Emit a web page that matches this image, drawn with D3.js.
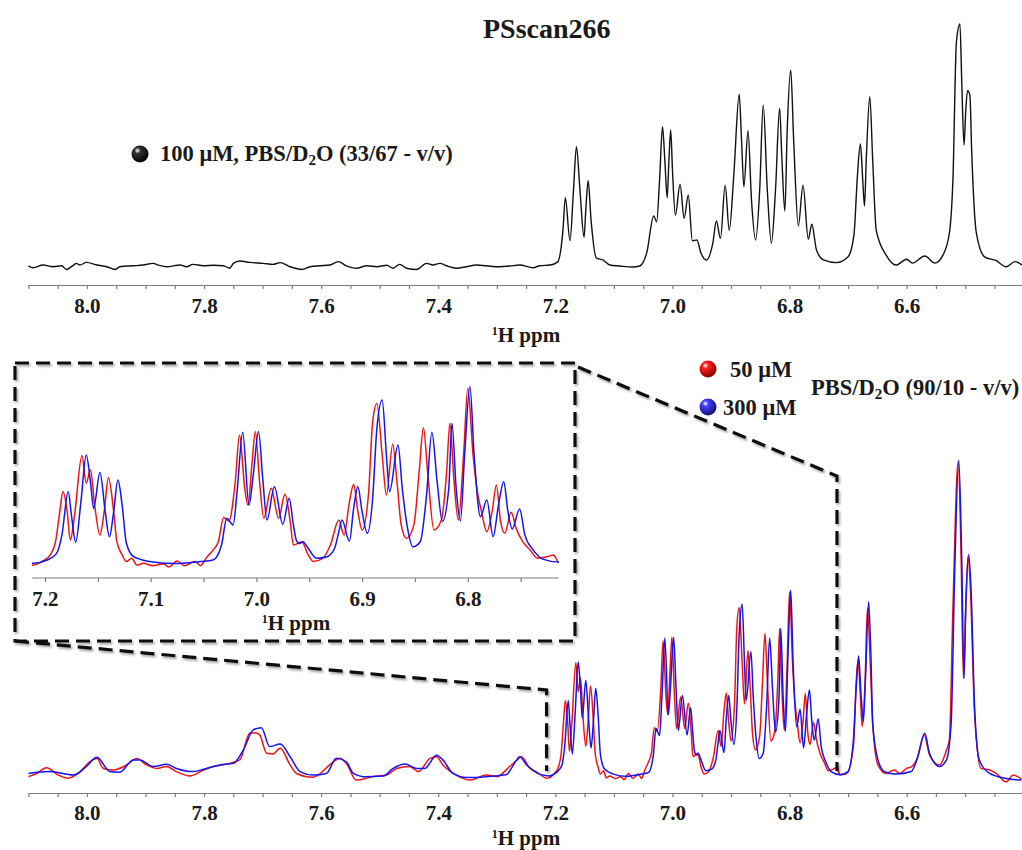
<!DOCTYPE html>
<html>
<head>
<meta charset="utf-8">
<title>PSscan266</title>
<script src="https://d3js.org/d3.v7.min.js"></script>
<style>
  body { margin: 0; padding: 0; background: #fff; }
  svg text { font-family: "Liberation Serif", "DejaVu Serif", serif; font-weight: bold; fill: #1a1a1a; }
  .axis path, .axis line { stroke: #7d7d7d; stroke-width: 1.2; }
  .axis text { font-size: 21px; font-family: "Liberation Serif", serif; }
</style>
</head>
<body>
<div id="chart"></div>
<script>
// ---- data: [ppm, relative intensity] ----
var topSpectrum = [
  [8.100,0.5],[8.092,-0.3],[8.075,0.8],[8.058,0.1],[8.043,0.5],[8.035,-1.0],[8.023,0.8],[8.018,1.5],[8.012,0.8],[8.001,1.9],
  [7.983,0.8],[7.966,0.1],[7.952,-1.0],[7.944,0.1],[7.921,0.5],[7.904,0.8],[7.887,1.5],[7.878,0.8],[7.864,0.1],[7.841,0.8],
  [7.830,0.1],[7.819,1.1],[7.801,0.5],[7.784,0.7],[7.767,0.5],[7.756,-0.5],[7.750,1.5],[7.739,2.5],[7.722,1.9],[7.699,1.5],
  [7.682,1.1],[7.670,1.8],[7.653,0.1],[7.633,-1.0],[7.619,0.1],[7.602,0.5],[7.585,0.8],[7.571,2.2],[7.557,0.5],[7.540,-0.5],
  [7.522,0.5],[7.505,0.1],[7.488,0.7],[7.477,-0.5],[7.466,1.1],[7.454,-0.5],[7.437,-1.0],[7.420,1.5],[7.409,0.8],[7.397,1.5],
  [7.386,0.5],[7.369,-0.5],[7.352,0.1],[7.335,0.8],[7.318,0.5],[7.295,0.1],[7.278,0.4],[7.261,0.8],[7.238,-0.3],[7.227,0.5],
  [7.209,0.8],[7.196,2.1],[7.187,15.2],[7.183,28.5],[7.175,10.8],[7.169,31.7],[7.164,49.5],[7.158,31.7],[7.151,12.3],[7.148,23.5],
  [7.144,35.5],[7.139,19.3],[7.130,3.7],[7.119,2.9],[7.107,0.8],[7.090,0.4],[7.068,0],[7.056,0.4],[7.044,5.8],[7.032,21.0],
  [7.027,18.6],[7.022,35.8],[7.017,57.7],[7.013,44],[7.009,28.5],[7.006,44],[7.003,56.4],[7.000,40],[6.995,21.4],[6.987,34.0],
  [6.980,20.0],[6.973,29.6],[6.966,10.8],[6.958,11.1],[6.952,6.2],[6.942,2.9],[6.931,9.9],[6.925,18.9],[6.918,11.8],[6.910,33.7],
  [6.903,15.2],[6.895,38.6],[6.886,71.1],[6.882,52.3],[6.878,33.0],[6.871,56.1],[6.865,27.6],[6.858,11.1],[6.851,31.7],[6.845,66.7],
  [6.838,31.7],[6.831,9.8],[6.824,31.7],[6.817,65.3],[6.813,44],[6.808,23.0],[6.804,56.4],[6.798,81.1],[6.793,52.3],[6.785,16.9],
  [6.777,33.7],[6.768,11.4],[6.762,17.6],[6.754,7.0],[6.742,2.9],[6.720,1.8],[6.700,4.2],[6.690,13.2],[6.684,37.9],[6.679,50.6],
  [6.675,35.8],[6.672,25.1],[6.669,44],[6.663,70.1],[6.658,44],[6.652,15.2],[6.635,4.9],[6.618,0.8],[6.600,3.2],[6.590,1.6],
  [6.569,4.5],[6.552,1.6],[6.538,4.9],[6.527,14.0],[6.521,35.8],[6.515,92.7],[6.509,100],[6.506,77],[6.502,50.2],[6.499,64.6],
  [6.496,72.6],[6.492,70.8],[6.489,48.1],[6.481,14.0],[6.467,4.2],[6.447,2.6],[6.430,0.1],[6.415,2.2],[6.403,0.8]
];

var redSpectrum = [
  [8.100,-0.2],[8.086,0.8],[8.069,2.6],[8.049,0.3],[8.032,-0.7],[8.015,0.8],[7.995,4.5],[7.983,5.5],[7.972,2.4],[7.955,1.9],
  [7.932,3.5],[7.915,5.5],[7.898,3.5],[7.881,2.4],[7.864,3.0],[7.847,1.4],[7.824,0],[7.801,1.9],[7.784,3.0],[7.761,3.8],
  [7.739,5.1],[7.722,13.5],[7.713,13.7],[7.705,13.0],[7.693,7.2],[7.682,7.0],[7.670,8.8],[7.653,3.5],[7.642,0.8],[7.614,-0.4],
  [7.579,4.5],[7.568,5.6],[7.557,4.0],[7.540,-1.3],[7.511,-0.2],[7.488,0.3],[7.471,2.4],[7.449,3.0],[7.434,1.4],[7.414,5.6],
  [7.403,6.1],[7.392,3.5],[7.369,0.3],[7.346,-1.3],[7.318,0.3],[7.300,-0.2],[7.278,3.0],[7.264,5.3],[7.258,6.1],[7.244,2.5],
  [7.227,0.6],[7.215,-0.7],
  [7.211,-0.6],[7.202,0.8],[7.195,2.8],[7.190,7.2],[7.186,17.2],[7.183,23.9],[7.179,17.2],[7.176,7.8],[7.172,16.1],[7.165,35.9],
  [7.161,26.7],[7.157,31.1],[7.153,19.4],[7.148,9.4],[7.144,17.2],[7.140,28.5],[7.135,17.2],[7.132,7.2],[7.127,2.8],[7.123,0.6],
  [7.118,1.7],[7.113,-0.6],[7.107,0],[7.098,-0.8],[7.088,-0.2],[7.083,-1.2],[7.075,0.8],[7.068,-0.8],[7.058,0.6],[7.053,-0.8],
  [7.047,2.0],[7.041,4.4],[7.036,7.2],[7.031,15.3],[7.026,14.1],[7.020,27.2],[7.016,42.8],[7.011,25.0],[7.008,19.4],[7.004,33.9],
  [7.001,43.9],[6.997,27.2],[6.993,15.0],[6.986,25.0],[6.979,15.0],[6.973,23.0],[6.968,13.9],[6.965,6.1],[6.957,7.2],[6.951,2.8],
  [6.946,0.6],[6.937,1.7],[6.930,6.1],[6.922,14.4],[6.917,9.4],[6.912,20.5],[6.908,26.3],[6.904,17.2],[6.900,11.1],[6.894,22.8],
  [6.890,47.2],[6.886,53.3],[6.881,36.1],[6.877,22.8],[6.871,39.7],[6.867,27.2],[6.863,12.8],[6.858,8.3],[6.851,12.8],[6.846,30.5],
  [6.842,45.2],[6.838,30.5],[6.832,11.1],[6.825,14.4],[6.820,30.5],[6.817,46.7],[6.813,27.2],[6.809,14.4],[6.804,36.1],[6.800,58.3],
  [6.795,36.1],[6.791,23.9],[6.787,17.2],[6.782,10.5],[6.777,17.2],[6.773,26.1],[6.769,13.9],[6.765,10.0],[6.759,17.0],[6.754,11.4],
  [6.748,7.2],[6.741,4.4],[6.734,1.7],[6.725,2.2],[6.719,2.8],[6.714,0.4],
  [6.703,0.7],[6.691,9.3],[6.686,30.4],[6.683,36.7],[6.679,25],[6.676,15.6],[6.671,30],[6.667,53.1],[6.662,35],[6.658,16.7],
  [6.649,3.5],[6.635,0.8],[6.621,1.9],[6.612,0.8],[6.600,2.4],[6.592,2.9],[6.583,5.1],[6.570,13.0],[6.561,6.7],[6.544,3.5],
  [6.532,8.2],[6.527,11.4],[6.521,53.0],[6.512,99.5],[6.507,69.4],[6.503,30.9],[6.499,53.6],[6.495,69.6],[6.491,58.9],[6.484,19.8],
  [6.473,2.4],[6.458,1.9],[6.447,0.8],[6.430,-1.9],[6.418,0.3],[6.404,-1.0]
];

var blueSpectrum = [
  [8.100,0.8],[8.063,1.4],[8.023,0.3],[8.001,3.0],[7.983,5.9],[7.961,1.4],[7.944,1.2],[7.921,5.1],[7.910,5.1],[7.887,3.0],
  [7.864,3.7],[7.847,2.4],[7.819,1.4],[7.796,2.4],[7.773,3.5],[7.750,4.0],[7.733,8.2],[7.716,14.6],[7.702,15.3],[7.688,9.3],
  [7.670,10.1],[7.653,6.1],[7.636,1.4],[7.614,0.3],[7.591,0.8],[7.574,5.6],[7.557,4.5],[7.545,0.8],[7.528,-0.2],[7.494,0],
  [7.477,2.4],[7.457,3.8],[7.437,2.4],[7.423,2.4],[7.403,6.6],[7.392,5.1],[7.375,0.8],[7.352,-0.5],[7.318,-0.2],[7.283,0.5],
  [7.275,2.5],[7.266,5.1],[7.261,6.1],[7.249,3.5],[7.238,1.9],[7.227,0.6],[7.215,0.1],
  [7.211,0],[7.198,1.1],[7.189,3.3],[7.184,9.4],[7.178,23.9],[7.175,16.1],[7.171,7.0],[7.166,20.5],[7.161,36.1],[7.157,27.2],
  [7.154,18.3],[7.148,30.3],[7.143,17.2],[7.139,8.9],[7.135,17.2],[7.131,27.8],[7.127,19.4],[7.123,6.7],[7.116,2.2],[7.101,0.6],
  [7.079,-0.1],[7.053,0.6],[7.041,1.1],[7.033,6.1],[7.028,15.0],[7.022,12.8],[7.018,25.0],[7.013,43.7],[7.007,19.4],[7.003,29.4],
  [6.998,43.9],[6.994,28.3],[6.990,14.4],[6.983,25.5],[6.975,13.0],[6.969,21.7],[6.965,12.8],[6.962,7.5],[6.959,6.6],[6.956,7.2],
  [6.952,5.5],[6.943,1.7],[6.933,2.2],[6.926,5.0],[6.922,10.5],[6.919,14.4],[6.912,7.4],[6.908,18.3],[6.904,25.5],[6.900,17.2],
  [6.895,10.0],[6.890,21.7],[6.886,45.0],[6.881,54.4],[6.877,36.1],[6.874,23.9],[6.866,39.4],[6.862,25.0],[6.857,11.7],[6.852,5.5],
  [6.845,7.2],[6.839,22.8],[6.834,43.7],[6.829,27.2],[6.824,13.9],[6.818,25.0],[6.815,46.7],[6.811,25.0],[6.807,14.1],[6.803,36.1],
  [6.798,58.9],[6.794,36.1],[6.788,15.5],[6.782,21.1],[6.776,8.9],[6.771,19.4],[6.766,27.2],[6.762,17.2],[6.758,11.4],[6.751,18.1],
  [6.746,9.4],[6.738,4.4],[6.729,1.4],[6.714,0.4],
  [6.700,1.4],[6.691,11.4],[6.686,28.3],[6.682,38.0],[6.678,26.2],[6.674,17.2],[6.670,32.5],[6.665,55.2],[6.661,37.8],[6.658,16.7],
  [6.649,5.1],[6.638,1.4],[6.618,0.6],[6.592,1.4],[6.581,6.1],[6.569,13.5],[6.561,7.2],[6.544,3.0],[6.532,5.1],[6.524,16.7],
  [6.518,64.1],[6.511,100],[6.506,69.4],[6.502,30.9],[6.499,53.6],[6.494,70.1],[6.490,58.9],[6.484,21.9],[6.476,5.1],[6.458,0.8],
  [6.430,-0.8],[6.404,-1.3]
];

var mainTickLabels = [8.0, 7.8, 7.6, 7.4, 7.2, 7.0, 6.8, 6.6];
var insetTickLabels = [7.2, 7.1, 7.0, 6.9, 6.8];
var mainDomain = [8.10, 6.403];
var insetDomain = [7.212, 6.714];
var zoomWindow = [7.215, 6.719];
var seriesNames = ["50 μM", "300 μM"];
var seriesColors = ["#f01414", "#1414f0"];

var width = 1022, height = 850;

var svg = d3.select("#chart").append("svg")
    .attr("width", width)
    .attr("height", height);

var defs = svg.append("defs");

// shaded balls for the legends
function ball(id, base, dark) {
  var g = defs.append("radialGradient").attr("id", id)
      .attr("cx", "35%").attr("cy", "30%").attr("r", "70%");
  g.append("stop").attr("offset", "0%").attr("stop-color", "#fff").attr("stop-opacity", 0.9);
  g.append("stop").attr("offset", "25%").attr("stop-color", base);
  g.append("stop").attr("offset", "100%").attr("stop-color", dark);
}
ball("ballBlack", "#333", "#000");
ball("ballRed", "#ff2020", "#8a0000");
ball("ballBlue", "#4040ff", "#10107a");

var shadow = defs.append("filter").attr("id", "shadow")
    .attr("x", "-5%").attr("y", "-5%").attr("width", "110%").attr("height", "110%");
shadow.append("feDropShadow").attr("dx", 1.5).attr("dy", 2)
    .attr("stdDeviation", 1.2).attr("flood-color", "#000").attr("flood-opacity", 0.35);

defs.append("clipPath").attr("id", "clipMain")
  .append("rect").attr("x", 28).attr("y", 0).attr("width", 994).attr("height", 850);
defs.append("clipPath").attr("id", "clipInset")
  .append("rect").attr("x", 32).attr("y", 360).attr("width", 527).attr("height", 260);

// scales
var x = d3.scaleLinear().domain(mainDomain).range([28.4, 1022]);
var xIn = d3.scaleLinear().domain(insetDomain).range([32.3, 558.7]);
var yTop = d3.scaleLinear().domain([0, 100]).range([267, 24]);
var yBot = d3.scaleLinear().domain([0, 100]).range([776, 460]);
var yIn = d3.scaleLinear().domain([0, 100]).range([563.3, 263.3]);

function lineFor(xs, ys) {
  return d3.line()
      .x(function(d) { return xs(d[0]); })
      .y(function(d) { return ys(d[1]); })
      .curve(d3.curveMonotoneX);
}

function tickSet(from, to, step) {
  var n = Math.round((from - to) / step);
  return d3.range(n + 1).map(function(i) { return +(from - i * step).toFixed(3); });
}

function drawAxis(xs, yPos, ticks, labels, pad) {
  var axis = d3.axisBottom(xs)
      .tickValues(ticks)
      .tickSize(4)
      .tickSizeOuter(0)
      .tickPadding(pad)
      .tickFormat(function(d) {
        return labels.some(function(l) { return Math.abs(l - d) < 1e-6; }) ? d.toFixed(1) : "";
      });
  return svg.append("g").attr("class", "axis")
      .attr("transform", "translate(0," + yPos + ")")
      .call(axis);
}

function axisTitle(cx, baseline) {
  var t = svg.append("text").attr("x", cx).attr("y", baseline)
      .attr("text-anchor", "middle").style("font-size", "21px");
  t.append("tspan").attr("dy", -7).style("font-size", "12px").text("1");
  t.append("tspan").attr("dy", 7).text("H ppm");
}

// ---- top spectrum ----
svg.append("text").attr("x", 483).attr("y", 38)
    .style("font-size", "28px").text("PSscan266");

svg.append("path").datum(topSpectrum)
    .attr("clip-path", "url(#clipMain)")
    .attr("fill", "none").attr("stroke", "#111").attr("stroke-width", 1.4)
    .attr("d", lineFor(x, yTop));

drawAxis(x, 285, tickSet(8.10, 6.45, 0.05), mainTickLabels, 9);
axisTitle(526, 342);

svg.append("circle").attr("cx", 140).attr("cy", 154).attr("r", 8.5).attr("fill", "url(#ballBlack)");
var lt = svg.append("text").attr("x", 160).attr("y", 161).style("font-size", "22.5px");
lt.append("tspan").text("100 μM, PBS/D");
lt.append("tspan").attr("dy", 4).style("font-size", "15px").text("2");
lt.append("tspan").attr("dy", -4).text("O (33/67 - v/v)");

// ---- bottom spectrum ----
[redSpectrum, blueSpectrum].forEach(function(s, i) {
  svg.append("path").datum(s)
      .attr("clip-path", "url(#clipMain)")
      .attr("fill", "none").attr("stroke", seriesColors[i]).attr("stroke-width", 1.5)
      .attr("d", lineFor(x, yBot));
});

drawAxis(x, 793, tickSet(8.10, 6.45, 0.05), mainTickLabels, 8);
axisTitle(526, 845);

// legend bottom
var legY = [369, 407];
seriesNames.forEach(function(name, i) {
  svg.append("circle").attr("cx", 708).attr("cy", legY[i]).attr("r", 8.5)
      .attr("fill", i === 0 ? "url(#ballRed)" : "url(#ballBlue)");
  svg.append("text").attr("x", i === 0 ? 730 : 723).attr("y", legY[i] + 8)
      .style("font-size", "22.5px").text(name);
});
var pt = svg.append("text").attr("x", 811).attr("y", 395).style("font-size", "22.5px");
pt.append("tspan").text("PBS/D");
pt.append("tspan").attr("dy", 4).style("font-size", "15px").text("2");
pt.append("tspan").attr("dy", -4).text("O (90/10 - v/v)");

// ---- inset ----
[redSpectrum, blueSpectrum].forEach(function(s, i) {
  svg.append("path").datum(s)
      .attr("clip-path", "url(#clipInset)")
      .attr("fill", "none").attr("stroke", seriesColors[i]).attr("stroke-width", 1.5)
      .attr("d", lineFor(xIn, yIn));
});
var insetAxis = drawAxis(xIn, 578, tickSet(7.20, 6.75, 0.05), insetTickLabels, 9);
insetAxis.select(".domain").attr("d", "M" + xIn.range()[0] + ",0H" + xIn.range()[1]);
axisTitle(296, 630);

// dashed frame and connectors
var dash = svg.append("g").attr("filter", "url(#shadow)")
    .attr("fill", "none").attr("stroke", "#111").attr("stroke-width", 3.2)
    .attr("stroke-dasharray", "14,7");
dash.append("rect").attr("x", 15).attr("y", 363).attr("width", 560).attr("height", 278);
dash.append("path").attr("d", d3.line()([[578, 367], [x(zoomWindow[1]), 476], [x(zoomWindow[1]), 771]]));
dash.append("path").attr("d", d3.line()([[15, 641], [x(zoomWindow[0]), 690], [x(zoomWindow[0]), 771]]));
</script>
</body>
</html>
